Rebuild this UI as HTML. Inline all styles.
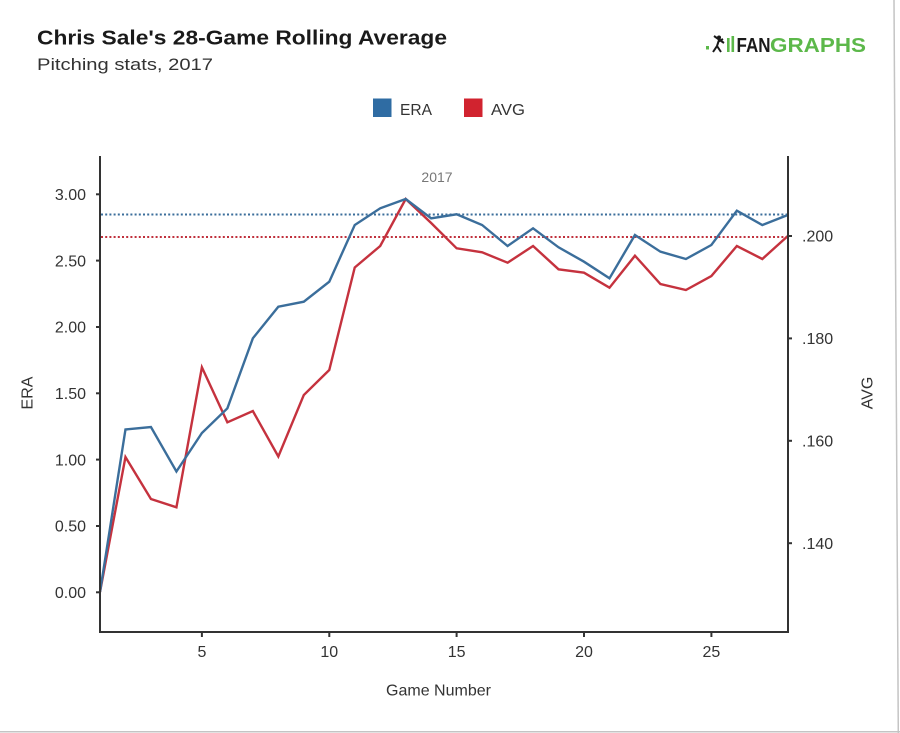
<!DOCTYPE html>
<html>
<head>
<meta charset="utf-8">
<style>
  html, body { margin: 0; padding: 0; background: #ffffff; }
  body { width: 900px; height: 733px; overflow: hidden; }
  svg { display: block; }
  text { font-family: "Liberation Sans", "DejaVu Sans", sans-serif; }
</style>
</head>
<body>
<svg width="900" height="733" viewBox="0 0 900 733" xmlns="http://www.w3.org/2000/svg">
  <rect x="0" y="0" width="900" height="733" fill="#ffffff"/>
  <!-- outer border remnants -->
  <line x1="894" y1="0" x2="898.3" y2="733" stroke="#c4c4c4" stroke-width="1.5"/>
  <line x1="0" y1="731.8" x2="900" y2="731.8" stroke="#c4c4c4" stroke-width="1.5"/>

  <!-- Title -->
  <text x="37" y="44.5" font-size="20.5" font-weight="bold" fill="#1a1a1a" textLength="410" lengthAdjust="spacingAndGlyphs">Chris Sale's 28-Game Rolling Average</text>
  <text x="37" y="70" font-size="17" fill="#333333" textLength="176" lengthAdjust="spacingAndGlyphs">Pitching stats, 2017</text>

  <!-- Logo -->
  <g>
    <rect x="706" y="46" width="3" height="3.5" fill="#5cb84a"/>
    <!-- batter figure -->
    <circle cx="719" cy="37.5" r="2" fill="#1a1a1a"/>
    <path d="M719 40 L717 46 L713 52 M717 46 L721 52 M718.5 41.5 L723 39 M714 36 L724 43" stroke="#1a1a1a" stroke-width="2" fill="none"/>
    <rect x="727" y="38" width="2.6" height="14" fill="#5cb84a"/>
    <rect x="731.5" y="36" width="2.6" height="16" fill="#5cb84a"/>
    <text x="736.5" y="52" font-size="20" font-weight="bold" fill="#1a1a1a" textLength="34" lengthAdjust="spacingAndGlyphs">FAN</text>
    <text x="770" y="52" font-size="20" font-weight="bold" fill="#5cb84a" textLength="96" lengthAdjust="spacingAndGlyphs">GRAPHS</text>
  </g>

  <!-- Legend -->
  <rect x="373" y="98.5" width="18.5" height="18.5" fill="#2f6ca3"/>
  <text x="400" y="115" font-size="16" fill="#333333" textLength="32" lengthAdjust="spacingAndGlyphs">ERA</text>
  <rect x="464" y="98.5" width="18.5" height="18.5" fill="#d1232f"/>
  <text x="491" y="115" font-size="16" fill="#333333" textLength="34" lengthAdjust="spacingAndGlyphs">AVG</text>

  <!-- 2017 annotation -->
  <text x="437" y="182" font-size="14" fill="#777777" text-anchor="middle">2017</text>

  <!-- Dotted reference lines -->
  <line x1="101" y1="214.5" x2="787" y2="214.5" stroke="#3b6e9b" stroke-width="2" stroke-dasharray="2,2.2"/>
  <line x1="101" y1="237" x2="787" y2="237" stroke="#c0303c" stroke-width="2" stroke-dasharray="2,2.2"/>

  <!-- Series: AVG (red) -->
  <polyline fill="none" stroke="#c5323e" stroke-width="2.4" stroke-linejoin="miter"
    points="100,592 125.47,457 150.95,499 176.42,507.3 201.9,367.3 227.37,422.3 252.84,411 278.32,456.5 303.79,395 329.27,370 354.74,267.5 380.21,246 405.69,199 431.16,223 456.64,248.3 482.11,252.3 507.58,262.7 533.06,246 558.53,269.3 584,272.7 609.48,287.7 634.95,255.7 660.43,284 685.9,290 711.37,276 736.85,246 762.32,259 787.8,236"/>
  <!-- Series: ERA (blue) -->
  <polyline fill="none" stroke="#3b6e9b" stroke-width="2.4" stroke-linejoin="miter"
    points="100,592 125.47,429.5 150.95,427 176.42,471.5 201.9,433 227.37,408.3 252.84,338.3 278.32,306.7 303.79,301.7 329.27,281.7 354.74,225 380.21,208.3 405.69,199 431.16,218.3 456.64,214.3 482.11,225 507.58,246 533.06,228.3 558.53,247.3 584,261.7 609.48,278.3 634.95,235 660.43,251.7 685.9,259 711.37,245 736.85,210.7 762.32,225 787.8,215"/>

  <!-- Axes -->
  <g stroke="#333333" stroke-width="2" fill="none">
    <line x1="100" y1="156" x2="100" y2="633"/>
    <line x1="788" y1="156" x2="788" y2="633"/>
    <line x1="99" y1="632" x2="789" y2="632"/>
    <!-- left ticks -->
    <line x1="96" y1="592.3" x2="100" y2="592.3"/>
    <line x1="96" y1="526" x2="100" y2="526"/>
    <line x1="96" y1="459.6" x2="100" y2="459.6"/>
    <line x1="96" y1="393.3" x2="100" y2="393.3"/>
    <line x1="96" y1="327" x2="100" y2="327"/>
    <line x1="96" y1="260.6" x2="100" y2="260.6"/>
    <line x1="96" y1="194.3" x2="100" y2="194.3"/>
    <!-- right ticks -->
    <line x1="788" y1="236" x2="792" y2="236"/>
    <line x1="788" y1="338.4" x2="792" y2="338.4"/>
    <line x1="788" y1="440.8" x2="792" y2="440.8"/>
    <line x1="788" y1="543.2" x2="792" y2="543.2"/>
    <!-- bottom ticks -->
    <line x1="201.9" y1="632" x2="201.9" y2="637"/>
    <line x1="329.3" y1="632" x2="329.3" y2="637"/>
    <line x1="456.6" y1="632" x2="456.6" y2="637"/>
    <line x1="584" y1="632" x2="584" y2="637"/>
    <line x1="711.4" y1="632" x2="711.4" y2="637"/>
  </g>

  <!-- Left tick labels -->
  <g font-size="16" fill="#333333" text-anchor="end">
    <text x="86" y="598">0.00</text>
    <text x="86" y="531.7">0.50</text>
    <text x="86" y="465.3">1.00</text>
    <text x="86" y="399">1.50</text>
    <text x="86" y="332.7">2.00</text>
    <text x="86" y="266.3">2.50</text>
    <text x="86" y="200">3.00</text>
  </g>
  <!-- Right tick labels -->
  <g font-size="16" fill="#333333">
    <text x="802" y="241.7">.200</text>
    <text x="802" y="344.1">.180</text>
    <text x="802" y="446.5">.160</text>
    <text x="802" y="548.9">.140</text>
  </g>
  <!-- Bottom tick labels -->
  <g font-size="16" fill="#333333" text-anchor="middle">
    <text x="201.9" y="657">5</text>
    <text x="329.3" y="657">10</text>
    <text x="456.6" y="657">15</text>
    <text x="584" y="657">20</text>
    <text x="711.4" y="657">25</text>
  </g>

  <!-- Axis titles -->
  <text x="438.5" y="695.5" font-size="16" fill="#333333" text-anchor="middle">Game Number</text>
  <text transform="translate(32.5,393) rotate(-90)" font-size="16" fill="#333333" text-anchor="middle">ERA</text>
  <text transform="translate(872.5,393) rotate(-90)" font-size="16" fill="#333333" text-anchor="middle">AVG</text>
</svg>
</body>
</html>
